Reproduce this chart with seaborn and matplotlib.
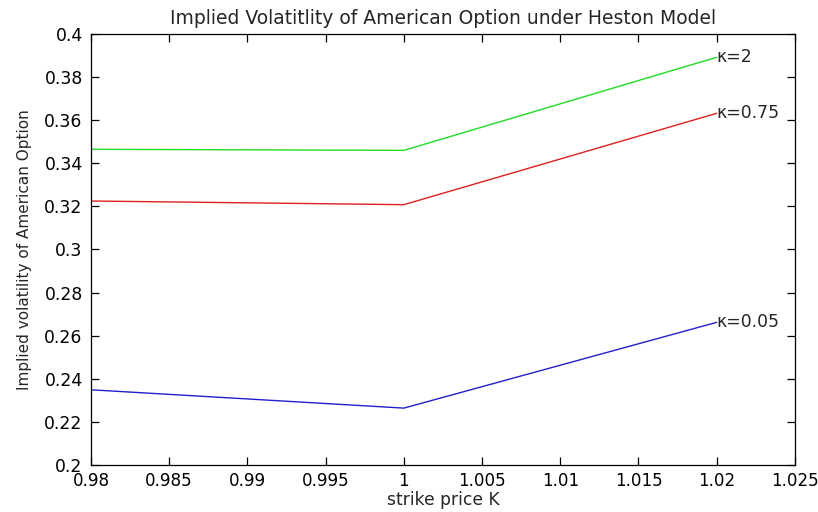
import matplotlib
matplotlib.use("Agg")
import matplotlib.pyplot as plt
import seaborn as sns
import pandas as pd
from matplotlib.ticker import FuncFormatter

# data
strike = [0.98, 1.0, 1.02]
vol_k2 = [0.3465, 0.3460, 0.3892]
vol_k075 = [0.3225, 0.3208, 0.3632]
vol_k005 = [0.2349, 0.2264, 0.2662]
labels = ["κ=2", "κ=0.75", "κ=0.05"]
colors = ["#22dd22", "#dd2020", "#2020cc"]

df = pd.concat([
    pd.DataFrame({"K": strike, "vol": v, "kappa": lab})
    for v, lab in zip([vol_k2, vol_k075, vol_k005], labels)
])

sns.set_style("white")
plt.rcParams["font.family"] = ["DejaVu Sans"]

fig = plt.figure(figsize=(8.18, 5.12), dpi=100)
ax = fig.add_axes([0.1112, 0.0918, 0.8606, 0.8418])

sns.lineplot(data=df, x="K", y="vol", hue="kappa", palette=colors,
             hue_order=labels, linewidth=1, legend=False, ax=ax)

# labels at line ends
for v, lab in zip([vol_k2, vol_k075, vol_k005], labels):
    ax.text(strike[-1], v[-1], lab, fontsize=12.4, va="center", ha="left")

ax.set_xlim(0.98, 1.025)
ax.set_ylim(0.2, 0.4)
ax.set_xticks([0.98 + 0.005 * i for i in range(10)])
ax.set_yticks([0.2 + 0.02 * i for i in range(11)])
fmt = FuncFormatter(lambda v, p: "%g" % round(v, 4))
ax.xaxis.set_major_formatter(fmt)
ax.yaxis.set_major_formatter(fmt)
ax.tick_params(direction="in", length=6, width=0.9, labelsize=12.4,
               top=True, right=True, bottom=True, left=True, colors="black")
ax.tick_params(axis="y", pad=6)
ax.tick_params(axis="x", pad=5, labelsize=12.1)
for s in ax.spines.values():
    s.set_color("black")
    s.set_linewidth(0.9)

ax.set_title("Implied Volatitlity of American Option under Heston Model", fontsize=13.5, pad=7)
ax.set_xlabel("strike price K", fontsize=12.3, labelpad=1)
ax.set_ylabel("Implied volatility of American Option", fontsize=11, labelpad=9)

fig.savefig("out.png", dpi=100)
